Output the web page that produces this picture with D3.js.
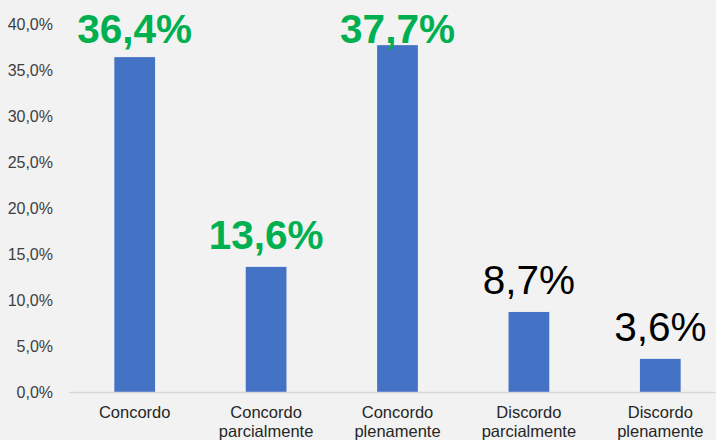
<!DOCTYPE html>
<html>
<head>
<meta charset="utf-8">
<script src="https://cdn.jsdelivr.net/npm/d3@7"></script>
<style>
  body { margin: 0; background: #f2f2f2; }
  svg { display: block; font-family: "Liberation Sans", Arial, sans-serif; }
</style>
</head>
<body>
<svg width="716" height="440"></svg>
<script>
// data
var categories = [["Concordo"], ["Concordo", "parcialmente"], ["Concordo", "plenamente"], ["Discordo", "parcialmente"], ["Discordo", "plenamente"]];
var values = [36.4, 13.6, 37.7, 8.7, 3.6];
var labelStyle = ["green", "green", "green", "black", "black"];
var yTicks = [0, 5, 10, 15, 20, 25, 30, 35, 40];

var svg = d3.select("svg");
var fmt = function(v) { return v.toFixed(1).replace(".", ","); };

var x = d3.scaleBand()
    .domain(d3.range(values.length))
    .range([69, 726])
    .paddingInner(0.69)
    .paddingOuter(0.345);

var y = d3.scaleLinear().domain([0, 40]).range([392, 24]);

// y axis labels
svg.append("g")
    .attr("transform", "translate(69,0)")
    .call(d3.axisLeft(y).tickValues(yTicks).tickFormat(function(d) { return fmt(d) + "%"; }).tickSize(0).tickPadding(16))
    .call(function(g) { g.select(".domain").remove(); })
    .selectAll("text")
      .style("font-size", "16px")
      .style("font-family", "Liberation Sans, Arial, sans-serif")
      .attr("fill", "#404040");

// bars
svg.selectAll(".bar")
  .data(values)
  .enter().append("rect")
    .attr("class", "bar")
    .attr("x", function(d, i) { return x(i); })
    .attr("y", function(d) { return y(d); })
    .attr("width", x.bandwidth())
    .attr("height", function(d) { return y(0) - y(d); })
    .attr("fill", "#4472c4");

// baseline
svg.append("line")
    .attr("x1", 69).attr("x2", 716)
    .attr("y1", y(0) + 0.5).attr("y2", y(0) + 0.5)
    .attr("stroke", "#d9d9d9")
    .attr("stroke-width", 1.5);

// value labels
svg.selectAll(".val")
  .data(values)
  .enter().append("text")
    .attr("class", "val")
    .attr("x", function(d, i) { return x(i) + x.bandwidth() / 2; })
    .attr("y", function(d) { return Math.max(y(d) - 18, 43); })
    .attr("text-anchor", "middle")
    .style("font-size", "40.5px")
    .attr("font-weight", function(d, i) { return labelStyle[i] == "green" ? "bold" : "normal"; })
    .attr("fill", function(d, i) { return labelStyle[i] == "green" ? "#00b050" : "#000"; })
    .text(function(d) { return fmt(d) + "%"; });

// category labels
var cat = svg.selectAll(".cat")
  .data(categories)
  .enter().append("text")
    .attr("class", "cat")
    .attr("x", function(d, i) { return x(i) + x.bandwidth() / 2; })
    .attr("y", 418)
    .attr("text-anchor", "middle")
    .style("font-size", "16.5px")
    .attr("fill", "#262626");

cat.selectAll("tspan")
  .data(function(d) { return d; })
  .enter().append("tspan")
    .attr("x", function() { return d3.select(this.parentNode).attr("x"); })
    .attr("dy", function(d, i) { return i ? 19 : 0; })
    .text(function(d) { return d; });
</script>
</body>
</html>
